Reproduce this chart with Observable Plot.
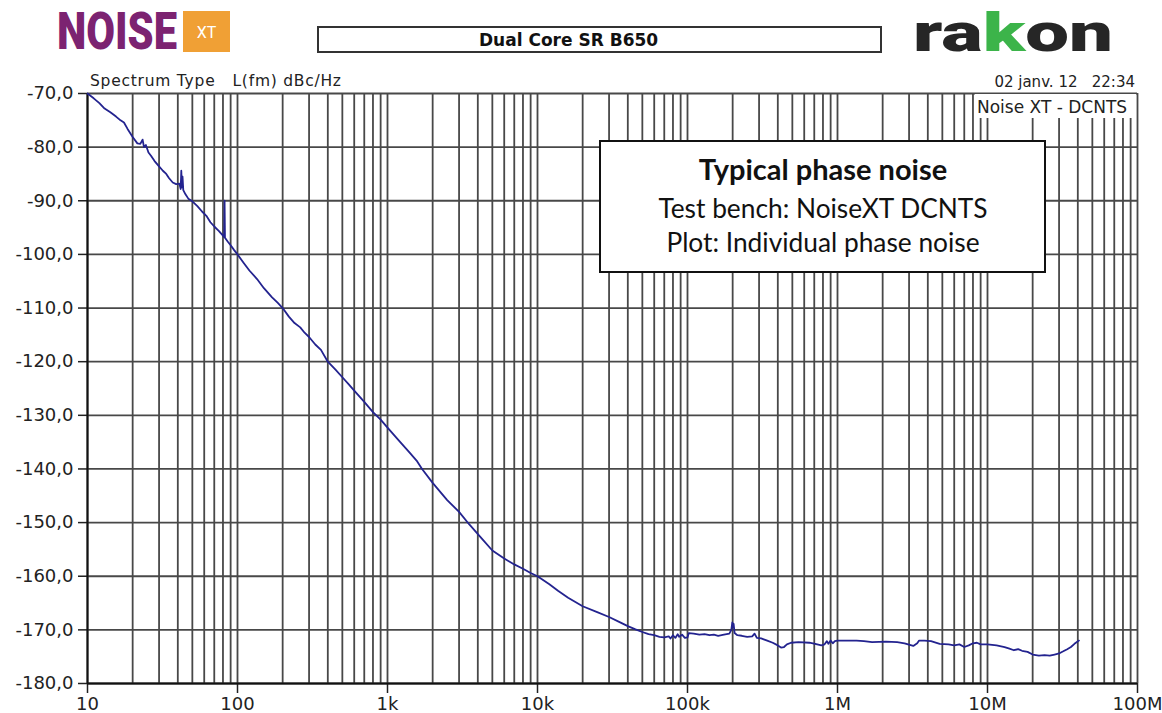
<!DOCTYPE html>
<html><head><meta charset="utf-8">
<script src="https://cdn.jsdelivr.net/npm/d3@7"></script>
<script src="https://cdn.jsdelivr.net/npm/@observablehq/plot@0.6"></script>
<style>
body{margin:0;background:#fff;}
#wrap{position:relative;width:1162px;height:713px;overflow:hidden;background:#fff;}
#chart{position:absolute;left:0;top:0;}
#overlay{position:absolute;left:0;top:0;pointer-events:none;}
</style></head><body>
<div id="wrap"><div id="chart"></div>
<svg id="overlay" width="1162" height="713" xmlns="http://www.w3.org/2000/svg">
  <!-- NOISE XT logo -->
  <text x="57" y="49" font-family="Roboto" font-weight="900" font-size="44" fill="#7c2371" textLength="120" lengthAdjust="spacingAndGlyphs" transform="translate(0,49) scale(1,1.18) translate(0,-49)">NOISE</text>
  <rect x="183" y="11" width="47" height="41" fill="#f0a035"/>
  <text x="206.5" y="38" text-anchor="middle" font-family="Roboto" font-size="16" fill="#fff">XT</text>
  <!-- title box -->
  <rect x="318" y="27" width="563" height="25" fill="#fff" stroke="#333" stroke-width="2"/>
  <text x="479" y="46" font-family="DejaVu Sans" font-weight="bold" font-size="17" fill="#111">Dual Core SR B650</text>
  <!-- rakon logo -->
  <text x="913" y="51" font-family="Roboto" font-weight="900" font-size="54" fill="#262626" textLength="200" lengthAdjust="spacingAndGlyphs">ra<tspan fill="#3cb44a">k</tspan>on</text>
  <!-- small header texts -->
  <text x="90" y="86" font-family="DejaVu Sans" font-size="15.5" fill="#222" style="white-space:pre" textLength="251" lengthAdjust="spacing">Spectrum Type   L(fm) dBc/Hz</text>
  <text x="1135" y="87" text-anchor="end" font-family="DejaVu Sans" font-size="15" fill="#222" style="white-space:pre">02 janv. 12   22:34</text>
  <rect x="975" y="94" width="161" height="24" fill="#fff"/>
  <text x="977" y="112.5" font-family="DejaVu Sans" font-size="17" fill="#222">Noise XT - DCNTS</text>
  <!-- annotation box -->
  <rect x="600" y="141" width="445" height="131" fill="#fff" stroke="#111" stroke-width="2"/>
  <text x="823" y="180" text-anchor="middle" font-family="Lato" font-weight="bold" font-size="29" fill="#111">Typical phase noise</text>
  <text x="823" y="218" text-anchor="middle" font-family="Lato" font-size="26.3" fill="#111">Test bench: NoiseXT DCNTS</text>
  <text x="823" y="252" text-anchor="middle" font-family="Lato" font-size="26.3" fill="#111">Plot: Individual phase noise</text>
</svg>
</div>
<script>
// Offset frequency (Hz)
const freq = [
  10, 11, 12, 13, 14.2, 15.5, 16.6, 17.5, 18.5, 20,
  21.5, 22.5, 23.3, 23.8, 24.5, 25.5, 26.5, 28, 30, 31.8,
  33.5, 35, 37, 39, 41, 41.8, 42.2, 42.6, 43, 43.5,
  45, 47, 50, 54, 58, 62, 66, 70, 75, 80,
  81.5, 82, 82.5, 86, 90, 95, 100, 110, 120, 135,
  150, 170, 185, 200, 220, 240, 262, 280, 300, 330,
  360, 400, 450, 500, 550, 600, 700, 800, 900, 1000,
  1200, 1400, 1578, 1700, 2000, 2500, 3000, 3500, 4170, 5000,
  6000, 7000, 8000, 9000, 10000, 12000, 13700, 16000, 20000, 25000,
  30000, 35000, 40000, 45000, 50000, 55000, 60000, 65000, 70000, 75000,
  77000, 80000, 83000, 86000, 88000, 92000, 96000, 100000, 102000, 110000,
  120000, 130000, 140000, 150000, 160000, 175000, 190000, 196000, 199000, 201000,
  203000, 206000, 215000, 230000, 250000, 270000, 280000, 290000, 310000, 340000,
  370000, 400000, 420000, 440000, 460000, 490000, 550000, 650000, 710000, 780000,
  820000, 850000, 870000, 900000, 930000, 960000, 1000000, 1340000, 1500000, 1700000,
  2100000, 2500000, 2800000, 3200000, 3400000, 3500000, 3800000, 4200000, 4800000, 5500000,
  6000000, 6500000, 7000000, 7500000, 8000000, 8500000, 9000000, 10000000, 11500000, 13000000,
  14000000, 15000000, 16000000, 17000000, 18500000, 20000000, 22000000, 24000000, 26000000, 28000000,
  30000000, 32000000, 34000000, 36000000, 38000000, 40700000
];
// Single-sideband phase noise L(fm), dBc/Hz
const phaseNoise = [
  -70, -70.9, -71.8, -72.8, -73.5, -74.3, -75.0, -75.4, -76.6, -78.1,
  -79.3, -79.4, -78.6, -80.0, -79.6, -81.0, -81.6, -82.6, -83.6, -84.4,
  -85.0, -85.8, -86.6, -86.9, -86.8, -87.8, -84.4, -87.5, -85.5, -88.0,
  -88.8, -89.6, -90.1, -91.0, -92.0, -92.8, -94.0, -94.8, -95.6, -96.5,
  -96.8, -90.0, -96.9, -97.6, -98.3, -99.2, -100.0, -101.6, -103.0, -104.6,
  -106.3, -108.0, -109.0, -110.0, -111.6, -112.8, -113.6, -114.6, -115.4, -116.8,
  -117.8, -120.0, -121.5, -122.9, -124.2, -125.4, -127.5, -129.4, -130.8, -132.3,
  -134.8, -136.9, -138.6, -140.0, -142.6, -145.8, -148.0, -150.3, -152.7, -155.2,
  -156.7, -157.8, -158.6, -159.4, -160.0, -161.5, -162.7, -164.0, -165.6, -166.7,
  -167.6, -168.5, -169.3, -169.9, -170.4, -170.8, -171.0, -171.3, -171.4, -171.2,
  -171.6, -171.0, -171.5, -170.8, -171.3, -170.9, -171.5, -171.4, -170.6, -170.7,
  -170.9, -170.8, -171.0, -170.9, -171.1, -170.9, -170.7, -170.0, -168.6, -169.5,
  -168.9, -170.6, -171.0, -171.1, -171.3, -171.2, -170.7, -171.5, -171.6, -172.0,
  -172.4, -172.9, -173.3, -173.2, -172.7, -172.4, -172.3, -172.4, -172.6, -172.9,
  -172.7, -172.1, -172.6, -172.0, -172.5, -172.1, -172.0, -172.0, -172.1, -172.3,
  -172.2, -172.3, -172.5, -173.0, -172.5, -172.0, -172.0, -172.1, -172.6, -172.7,
  -172.9, -172.7, -173.2, -172.9, -172.5, -172.4, -172.7, -172.7, -172.9, -173.2,
  -173.5, -173.8, -173.6, -173.9, -174.1, -174.6, -174.8, -174.7, -174.8, -174.6,
  -174.4, -174.0, -173.6, -173.2, -172.6, -172.0
];
const yTicks = [-70, -80, -90, -100, -110, -120, -130, -140, -150, -160, -170, -180];
const xTickValues = [10, 100, 1e3, 1e4, 1e5, 1e6, 1e7, 1e8];
const xTickLabels = ["10", "100", "1k", "10k", "100k", "1M", "10M", "100M"];
const gridMultipliers = [1, 2, 3, 4, 5, 6, 7, 8, 9];

const gridFreqs = [];
xTickValues.slice(0, -1).forEach(d => gridMultipliers.forEach(m => gridFreqs.push(d * m)));
gridFreqs.push(1e8);

const data = freq.map((f, i) => ({f, v: phaseNoise[i]}));

const chart = Plot.plot({
  width: 1162, height: 713,
  marginLeft: 87, marginRight: 25, marginTop: 93, marginBottom: 30,
  style: {background: "transparent", fontFamily: "DejaVu Sans", fontSize: "18px", color: "#222", overflow: "visible"},
  x: {type: "log", domain: [10, 1e8]},
  y: {domain: [-180, -70]},
  marks: [
    Plot.ruleX(gridFreqs, {stroke: "#484848", strokeWidth: 1.8}),
    Plot.ruleY(yTicks, {stroke: "#484848", strokeWidth: 1.8}),
    Plot.axisY({ticks: yTicks, tickFormat: d => d.toFixed(1).replace(".", ","), tickSize: 9, tickPadding: 5, label: null, strokeWidth: 1.5}),
    Plot.axisX({ticks: xTickValues, tickFormat: d => xTickLabels[xTickValues.indexOf(d)], tickSize: 10, tickPadding: 4, label: null, strokeWidth: 1.5}),
    Plot.ruleX([10], {stroke: "#111", strokeWidth: 2}),
    Plot.ruleY([-180], {stroke: "#111", strokeWidth: 2}),
    Plot.line(data, {x: "f", y: "v", stroke: "#23238f", strokeWidth: 1.8})
  ]
});
document.getElementById("chart").appendChild(chart);
</script>
</body></html>
